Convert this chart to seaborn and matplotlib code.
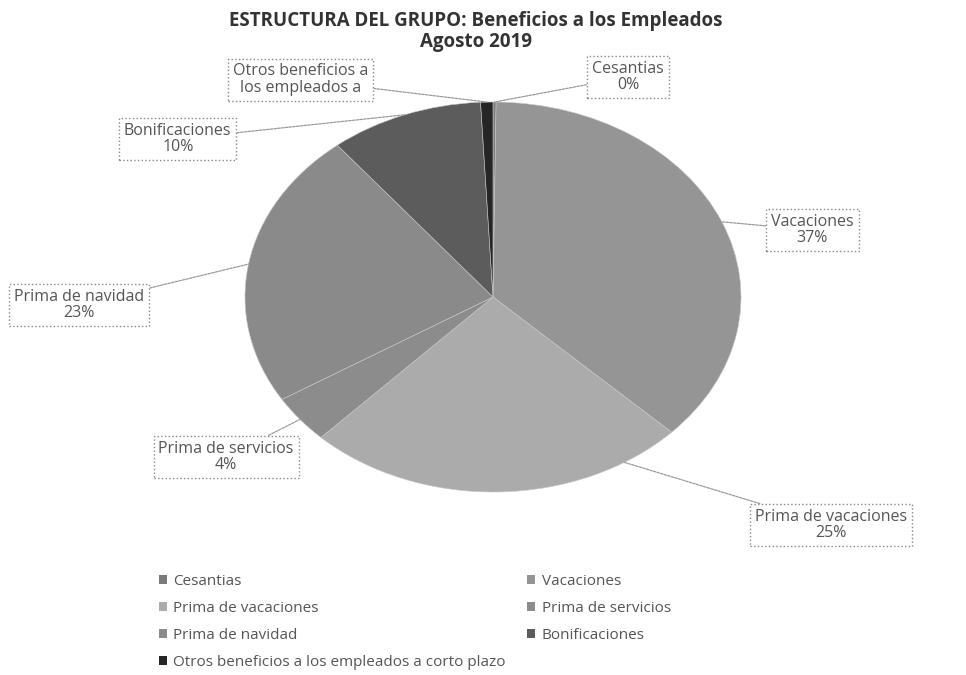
import numpy as np
import matplotlib.pyplot as plt
import seaborn as sns
from matplotlib.patches import Patch

sns.set_theme(style="white")
plt.rcParams['font.family'] = ['Open Sans', 'DejaVu Sans']

# data (percent of total benefits)
categories = ['Cesantias', 'Vacaciones', 'Prima de vacaciones', 'Prima de servicios',
              'Prima de navidad', 'Bonificaciones',
              'Otros beneficios a los empleados a corto plazo']
values = [0.2, 37, 25, 4, 23, 10, 0.8]
box_names = ['Cesantias', 'Vacaciones', 'Prima de vacaciones', 'Prima de servicios',
             'Prima de navidad', 'Bonificaciones', 'Otros beneficios a\nlos empleados a']
show_pct = [True, True, True, True, True, True, False]

greys = ['#7a7a7a', '#959595', '#ababab', '#8c8c8c', '#8a8a8a', '#5c5c5c', '#262626']

# label box centres (figure fraction) and leader-line angle overrides
box_pos = [(0.650, 0.886), (0.841, 0.659), (0.860, 0.222), (0.234, 0.323),
           (0.082, 0.548), (0.184, 0.794), (0.311, 0.882)]
angle_override = {2: 148}

fig = plt.figure(figsize=(9.66, 6.75), dpi=100)
ax = fig.add_axes([0.2536, 0.2711, 0.5135, 0.5778])
wedges, _ = ax.pie(values, startangle=90, counterclock=False, colors=greys,
                   wedgeprops=dict(edgecolor='#c8c8c8', linewidth=0.4))
ax.set_aspect('auto')
ax.set_xlim(-1, 1)
ax.set_ylim(-1, 1)

cum = np.cumsum([0] + values[:-1])
total = sum(values)
for i, name in enumerate(box_names):
    theta = 360 * (cum[i] + values[i] / 2) / total
    theta = angle_override.get(i, theta)
    t = np.deg2rad(theta)
    txt = name + (f"\n{values[i]:.0f}%" if show_pct[i] else "")
    ax.annotate(txt, xy=(np.sin(t), np.cos(t)), xycoords='data',
                xytext=box_pos[i], textcoords='figure fraction',
                ha='center', va='center', fontsize=11.5, color='#555555',
                linespacing=1.05,
                bbox=dict(boxstyle='square,pad=0.3', fc='white', ec='#888888',
                          ls=':', lw=1),
                arrowprops=dict(arrowstyle='-', color='#999999', lw=0.9, ls=(0, (2, 1)),
                                shrinkA=0, shrinkB=0))

fig.text(0.493, 0.953, "ESTRUCTURA DEL GRUPO: Beneficios a los Empleados\nAgosto 2019",
         ha='center', va='center', fontsize=13.5, fontweight='bold', color='#333333',
         linespacing=1.1)

handles = [Patch(facecolor=c, edgecolor='none') for c in greys]
order = [0, 2, 4, 6, 1, 3, 5]
fig.legend([handles[i] for i in order], [categories[i] for i in order],
           loc='upper left', bbox_to_anchor=(0.150, 0.170), ncol=2, frameon=False,
           handlelength=0.55, handleheight=0.55, handletextpad=0.4, labelspacing=0.78,
           columnspacing=1.4, fontsize=11, labelcolor='#555555',
           bbox_transform=fig.transFigure)

fig.savefig('out.png', dpi=100)
